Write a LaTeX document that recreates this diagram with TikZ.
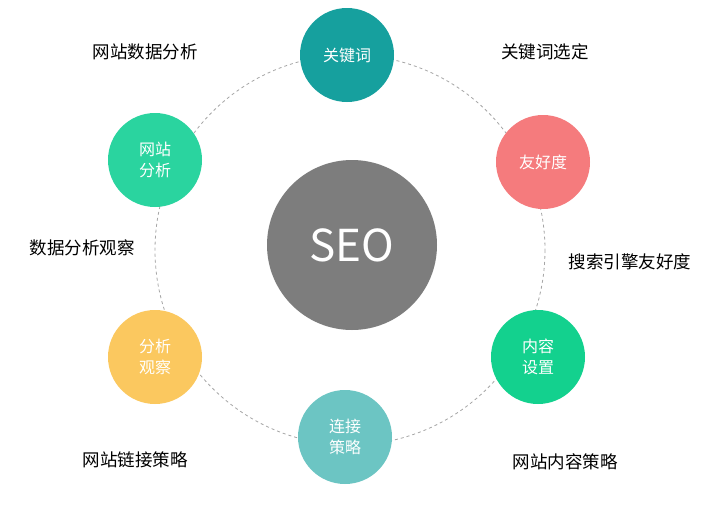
\documentclass[tikz,border=0pt]{standalone}
\usepackage{fontspec}
\setmainfont{Noto Sans CJK SC}
\begin{document}
\begin{tikzpicture}[x=1pt,y=-1pt,
  sat/.style={circle,minimum size=94pt,inner sep=0pt,text=white,font=\fontsize{16}{21}\selectfont,align=center},
  lbl/.style={font=\fontsize{17.5}{20}\selectfont,text=black}]
\useasboundingbox[fill=white] (0,0) rectangle (720,506);
\definecolor{cA}{HTML}{16A09E}\definecolor{cB}{HTML}{F57B7D}\definecolor{cC}{HTML}{13D18E}
\definecolor{cD}{HTML}{6CC5C3}\definecolor{cE}{HTML}{FBC85F}\definecolor{cF}{HTML}{2AD49F}
\definecolor{cG}{HTML}{7D7D7D}
\draw[gray!70,dashed,line width=0.8pt] (350,250) circle[radius=195];
\node[circle,fill=cG,minimum size=170pt,text=white,font=\fontsize{44}{48}\selectfont] (seo) at (352,245) {SEO};
\node[sat,fill=cA] (k) at (347,55) {关键词};
\node[sat,fill=cB] (f) at (543,162) {友好度};
\node[sat,fill=cC] (n) at (538,357) {内容\\设置};
\node[sat,fill=cD] (l) at (345,437) {连接\\策略};
\node[sat,fill=cE] (g) at (155,357) {分析\\观察};
\node[sat,fill=cF] (w) at (155,160) {网站\\分析};
\node[lbl] (t1) at (145,52) {网站数据分析};
\node[lbl] (t2) at (545,52) {关键词选定};
\node[lbl] (t3) at (630,262) {搜索引擎友好度};
\node[lbl] (t4) at (82,248) {数据分析观察};
\node[lbl] (t5) at (135,460) {网站链接策略};
\node[lbl] (t6) at (565,462) {网站内容策略};
\end{tikzpicture}
\end{document}
